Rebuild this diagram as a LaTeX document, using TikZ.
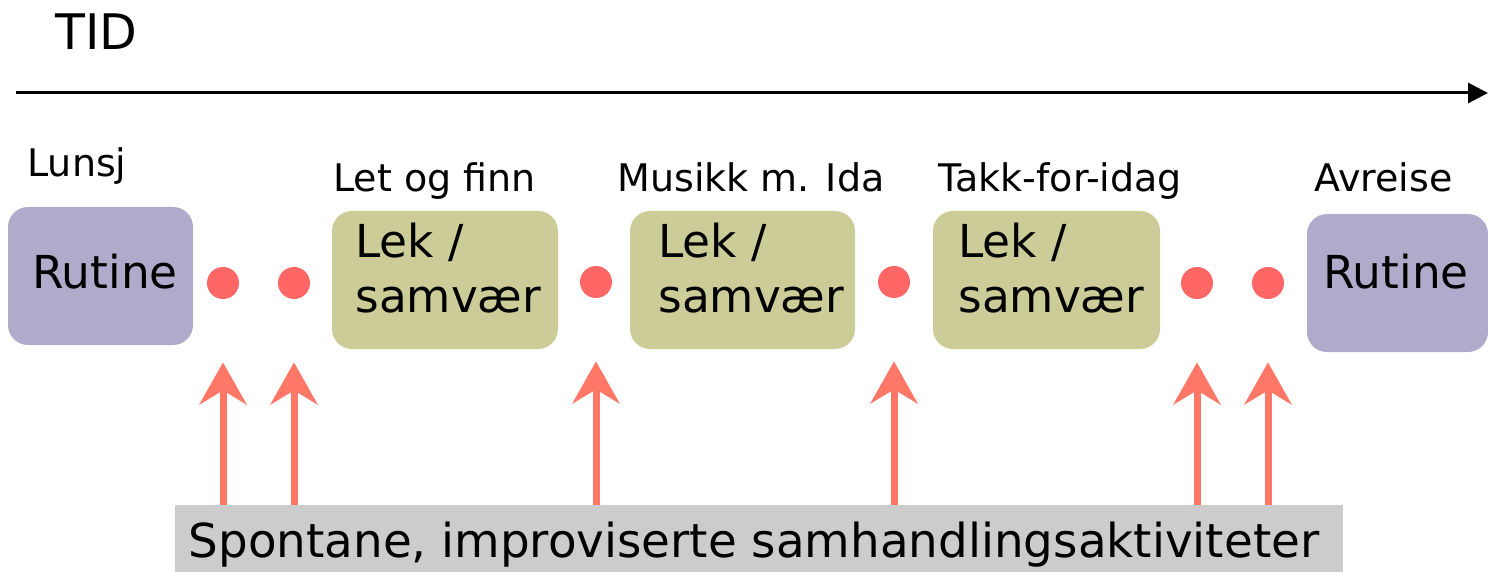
\documentclass[tikz,border=0pt]{standalone}
\usepackage{fontspec}
\setmainfont{DejaVu Sans}
\usetikzlibrary{arrows.meta}
\definecolor{rutc}{RGB}{176,171,202}
\definecolor{lekc}{RGB}{204,204,153}
\definecolor{dotc}{RGB}{255,102,102}
\definecolor{arrc}{RGB}{255,119,102}
\definecolor{grayc}{RGB}{204,204,204}
\begin{document}
\begin{tikzpicture}[x=0.5pt,y=-0.5pt,
  rutbox/.style={fill=rutc, rounded corners=10pt, minimum height=69pt, inner sep=0pt},
  lekbox/.style={fill=lekc, rounded corners=10pt, minimum height=69pt, inner sep=0pt},
  bigtxt/.style={font=\fontsize{22.7}{27.5}\selectfont, inner sep=0pt},
  lbl/.style={font=\fontsize{19}{22}\selectfont, inner sep=0pt, anchor=base west},
  reddot/.style={circle, fill=dotc, minimum size=16pt, inner sep=0pt},
  uparrow/.style={draw=arrc, line width=3.5pt, -{Stealth[length=21pt,width=23.5pt,inset=7pt]}, shorten >=31.5pt},
]
\useasboundingbox (0,0) rectangle (1488,572);
% title and time axis
\node[bigtxt, font=\fontsize{24.5}{28}\selectfont, anchor=base west] (tid) at (55,50) {TID};
\coordinate (a0) at (16,93);
\coordinate (a1) at (1488,93);
\draw[line width=1.5pt, -{Triangle[length=10pt,width=10pt]}] (a0) -- (a1);
% labels
\node[lbl] (lunsj) at (27,177) {Lunsj};
\node[lbl] (letog) at (333,192) {Let og finn};
\node[lbl] (musikk) at (617,192) {Musikk m. Ida};
\node[lbl] (takk) at (938,192) {Takk-for-idag};
\node[lbl] (avreise) at (1314,192) {Avreise};
% boxes
\node[rutbox, minimum width=92.5pt] (r1) at (100.5,276) {};
\node[lekbox, minimum width=113pt] (l1) at (445,280) {};
\node[lekbox, minimum width=112.5pt] (l2) at (742.5,280) {};
\node[lekbox, minimum width=113.5pt] (l3) at (1046.5,280) {};
\node[rutbox, minimum width=90.5pt] (r2) at (1397.5,283) {};
% box texts
\node[bigtxt, anchor=base] (r1t) at (105,288) {Rutine};
\node[bigtxt, anchor=base] (r2t) at (1396,289) {Rutine};
\node[bigtxt, anchor=north west, align=left] (l1t) at (355,223) {Lek /\\samvær};
\node[bigtxt, anchor=north west, align=left] (l2t) at (658,223) {Lek /\\samvær};
\node[bigtxt, anchor=north west, align=left] (l3t) at (958,223) {Lek /\\samvær};
% dots
\node[reddot] (d1) at (223,283) {};
\node[reddot] (d2) at (294,283) {};
\node[reddot] (d3) at (596,282) {};
\node[reddot] (d4) at (894,282) {};
\node[reddot] (d5) at (1197,283) {};
\node[reddot] (d6) at (1268,283) {};
% bottom bar
\node[fill=grayc, minimum width=584pt, minimum height=36pt, inner sep=0pt] (sp) at (759,541) {};
\node[bigtxt, font=\fontsize{23.4}{28}\selectfont, anchor=base] (spt) at (754,557) {Spontane, improviserte samhandlingsaktiviteter};
% arrows
\foreach \d in {d1,d2,d3,d4,d5,d6}
  \draw[uparrow] (\d |- sp.north) -- (\d);
\end{tikzpicture}
\end{document}
